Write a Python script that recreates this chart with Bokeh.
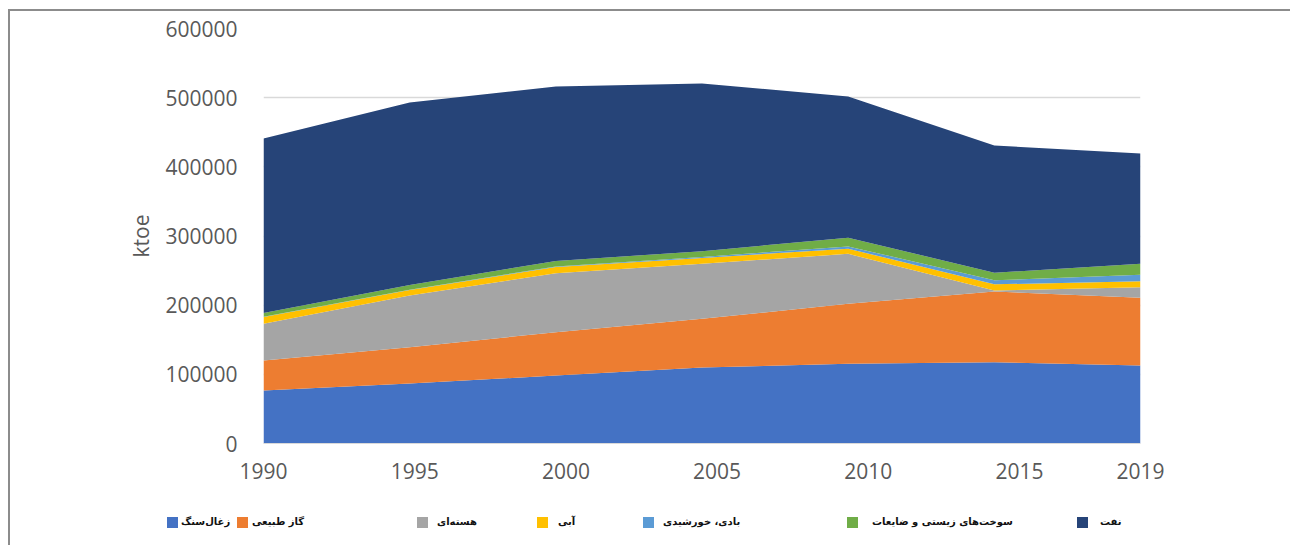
from bokeh.plotting import figure
from bokeh.layouts import column
from bokeh.models import (ColumnDataSource, FixedTicker, Range1d, Div,
                          LinearAxis, BasicTickFormatter)
from bokeh.embed import file_html
from bokeh.resources import INLINE

# ---------------- data (ktoe) ----------------
years = [1990, 1995, 2000, 2005, 2010, 2015, 2019]
coal = [76600, 86700, 98300, 109900, 115200, 117500, 112800]
gas = [43400, 52500, 62600, 70400, 86700, 102200, 97900]
nuclear = [53000, 74700, 85300, 79500, 72300, 1400, 15300]
hydro = [10000, 8000, 9000, 8500, 7500, 9000, 8700]
wind_solar = [300, 500, 800, 1500, 3300, 5800, 9300]
bio_waste = [5500, 6700, 7900, 8300, 12600, 11000, 15900]
oil = [252200, 263900, 252200, 242400, 204100, 183900, 159400]

series_keys = ["coal", "gas", "nuclear", "hydro", "wind_solar", "bio_waste", "oil"]
series_labels = ["زغال‌سنگ", "گاز طبیعی", "هسته‌ای", "آبی", "بادی، خورشیدی",
                 "سوخت‌های زیستی و ضایعات", "نفت"]
colors = ["#4472C4", "#ED7D31", "#A5A5A5", "#FFC000", "#5B9BD5", "#70AD47", "#264478"]
y_ticks = [0, 100000, 200000, 300000, 400000, 500000, 600000]
y_label = "ktoe"

# ---------------- layout ----------------
OX, OY = 10, 11                 # offset of the framed box on the page
W = 1290 - OX
SPLIT = 490                     # page y where the legend strip starts
HM = SPLIT - OY                 # main chart height
HL = 545 - SPLIT                # legend strip height
FL, FR, FT, FB = 263, 1140, 28, 443   # frame edges in page pixels

src = ColumnDataSource(dict(
    x=list(range(len(years))), coal=coal, gas=gas, nuclear=nuclear, hydro=hydro,
    wind_solar=wind_solar, bio_waste=bio_waste, oil=oil))

p = figure(width=W, height=HM, output_backend="svg", toolbar_location=None,
           x_range=Range1d(0, len(years) - 1), y_range=Range1d(0, y_ticks[-1]),
           x_axis_type=None,
           min_border_left=FL - OX, min_border_right=1290 - FR,
           min_border_top=FT - OY, min_border_bottom=HM - (FB - OY))
p.outline_line_color = None
p.background_fill_color = "white"
p.border_fill_color = "white"

renderers = p.varea_stack(stackers=series_keys, x="x", color=colors, source=src)

# visible year axis on a linear year scale
p.extra_x_ranges = {"yr": Range1d(years[0], years[-1])}
xax = LinearAxis(x_range_name="yr", ticker=FixedTicker(ticks=years),
                 formatter=BasicTickFormatter(use_scientific=False))
xax.axis_line_color = "#d9d9d9"
xax.major_tick_line_color = None
xax.minor_tick_line_color = None
xax.major_label_text_font = "Open Sans"
xax.major_label_text_font_size = "21px"
xax.major_label_text_color = "#595959"
xax.major_label_standoff = 13
p.add_layout(xax, "below")

yax = p.yaxis[0]
yax.ticker = FixedTicker(ticks=y_ticks)
yax.formatter = BasicTickFormatter(use_scientific=False)
yax.axis_line_color = None
yax.major_tick_line_color = None
yax.minor_tick_line_color = None
yax.major_label_text_font = "Open Sans"
yax.major_label_text_font_size = "21px"
yax.major_label_text_color = "#595959"
yax.major_label_standoff = 20
yax.axis_label = y_label
yax.axis_label_text_font = "Open Sans"
yax.axis_label_text_font_size = "21px"
yax.axis_label_text_font_style = "normal"
yax.axis_label_text_color = "#595959"
yax.axis_label_standoff = 7

p.ygrid.grid_line_color = "#d9d9d9"
p.ygrid.grid_line_width = 1.5
p.xgrid.visible = False

# ---------------- legend strip (HTML, positioned like the reference) ----------------
swatch_x = [167, 237, 417, 537, 643, 847, 1077]   # page x of each swatch
text_x = [181, 252, 437, 558, 663, 872, 1100]     # page x where each label starts
SW_TOP = 517 - SPLIT
parts = []
for col, lab, sx, tx in zip(colors, series_labels, swatch_x, text_x):
    parts.append(
        f'<span style="position:absolute;left:{sx - OX}px;top:{SW_TOP}px;'
        f'width:11px;height:11px;background:{col};"></span>')
    parts.append(
        f'<span dir="rtl" style="position:absolute;left:{tx - OX}px;top:{SW_TOP - 2}px;'
        f'font-family:\'DejaVu Sans\',sans-serif;'
        f'font-weight:bold;font-size:10px;line-height:14px;'
        f'color:#111111;white-space:nowrap;">{lab}</span>')
legend_div = Div(text=f'<div style="position:relative;width:{W}px;height:{HL}px;'
                      f'background:white;">' + "".join(parts) + '</div>',
                 width=W, height=HL, styles={"margin": "0", "padding": "0"})

layout = column(p, legend_div, spacing=0)
layout.styles = {"margin-left": "8px", "margin-top": "9px",
                 "border-left": "2px solid #8c8c8c", "border-top": "2px solid #8c8c8c"}

open("out.html", "w").write(file_html(layout, INLINE))
